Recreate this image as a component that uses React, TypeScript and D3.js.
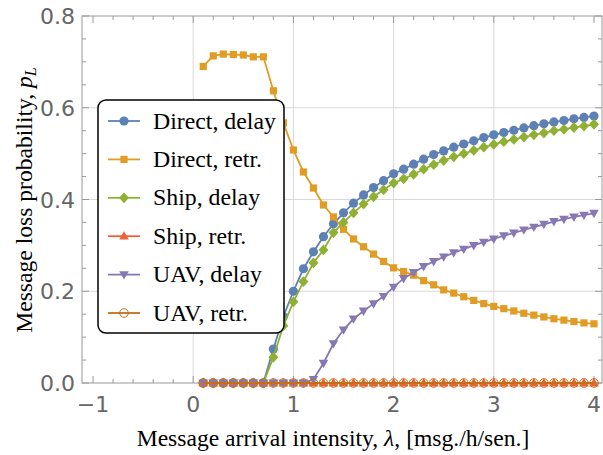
import React from "react";
import * as d3 from "d3";

// sample grid of arrival intensities
const lambda = [
  0.1, 0.2, 0.3, 0.4, 0.5, 0.6, 0.7, 0.8, 0.9, 1.0,
  1.1, 1.2, 1.3, 1.4, 1.5, 1.6, 1.7, 1.8, 1.9, 2.0,
  2.1, 2.2, 2.3, 2.4, 2.5, 2.6, 2.7, 2.8, 2.9, 3.0,
  3.1, 3.2, 3.3, 3.4, 3.5, 3.6, 3.7, 3.8, 3.9, 4.0,
];

const directDelay = [
  0, 0, 0, 0, 0, 0, 0, 0.074, 0.145, 0.2,
  0.249, 0.286, 0.319, 0.347, 0.371, 0.392, 0.41, 0.426, 0.441, 0.456,
  0.466, 0.477, 0.488, 0.498, 0.506, 0.514, 0.521, 0.528, 0.535, 0.541,
  0.546, 0.551, 0.556, 0.561, 0.565, 0.569, 0.572, 0.576, 0.579, 0.582,
];
const directRetr = [
  0.69, 0.713, 0.717, 0.716, 0.715, 0.711, 0.711, 0.637, 0.567, 0.508,
  0.46, 0.425, 0.388, 0.362, 0.335, 0.314, 0.297, 0.281, 0.265, 0.251,
  0.243, 0.235, 0.223, 0.214, 0.203, 0.196, 0.188, 0.18, 0.173, 0.167,
  0.162, 0.157, 0.152, 0.148, 0.144, 0.14, 0.137, 0.134, 0.131, 0.129,
];
const shipDelay = [
  0, 0, 0, 0, 0, 0, 0, 0.056, 0.125, 0.177,
  0.221, 0.262, 0.29, 0.328, 0.35, 0.371, 0.39, 0.406, 0.421, 0.436,
  0.445, 0.455, 0.466, 0.476, 0.485, 0.493, 0.5, 0.507, 0.514, 0.52,
  0.526, 0.531, 0.536, 0.541, 0.545, 0.55, 0.553, 0.557, 0.56, 0.564,
];
const shipRetr = [
  0, 0, 0, 0, 0, 0, 0, 0, 0, 0,
  0, 0, 0, 0, 0, 0, 0, 0, 0, 0,
  0, 0, 0, 0, 0, 0, 0, 0, 0, 0,
  0, 0, 0, 0, 0, 0, 0, 0, 0, 0,
];
const uavDelay = [
  0, 0, 0, 0, 0, 0, 0, 0, 0, 0,
  0, 0.008, 0.043, 0.086, 0.116, 0.14, 0.157, 0.173, 0.189, 0.209,
  0.228, 0.241, 0.254, 0.265, 0.275, 0.284, 0.292, 0.3, 0.307, 0.314,
  0.321, 0.327, 0.334, 0.34, 0.346, 0.352, 0.357, 0.362, 0.366, 0.37,
];
const uavRetr = [
  0, 0, 0, 0, 0, 0, 0, 0, 0, 0,
  0, 0, 0, 0, 0, 0, 0, 0, 0, 0,
  0, 0, 0, 0, 0, 0, 0, 0, 0, 0,
  0, 0, 0, 0, 0, 0, 0, 0, 0, 0,
];

const seriesNames = ["Direct, delay", "Direct, retr.", "Ship, delay", "Ship, retr.", "UAV, delay", "UAV, retr."];
const seriesValues = [directDelay, directRetr, shipDelay, shipRetr, uavDelay, uavRetr];
const seriesColors = ["#5e81b5", "#e19c24", "#8fb032", "#eb6235", "#8778b3", "#c56e1a"];
const seriesMarkers = ["circle", "square", "diamond", "triUp", "triDown", "openCircle"];

const xTickLabels = ["\u22121", "0", "1", "2", "3", "4"];
const yTickLabels = ["0.0", "0.2", "0.4", "0.6", "0.8"];

const W = 603;
const H = 455;
const left = 82, right = 602, top = 16, bottom = 383;

const Marker = ({ kind, color, x, y }: { kind: string; color: string; x: number; y: number }) => {
  switch (kind) {
    case "circle":
      return <circle cx={x} cy={y} r={4.6} fill={color} />;
    case "square":
      return <rect x={x - 3.6} y={y - 3.6} width={7.2} height={7.2} fill={color} />;
    case "diamond":
      return <path d={`M${x},${y - 5.4}L${x + 5},${y}L${x},${y + 5.4}L${x - 5},${y}Z`} fill={color} />;
    case "triUp":
      return <path d={`M${x},${y - 5}L${x + 4.8},${y + 3.4}L${x - 4.8},${y + 3.4}Z`} fill={color} />;
    case "triDown":
      return <path d={`M${x},${y + 5}L${x + 4.8},${y - 3.4}L${x - 4.8},${y - 3.4}Z`} fill={color} />;
    default:
      return <circle cx={x} cy={y} r={4.3} fill="none" stroke={color} strokeWidth={1} />;
  }
};

export default function App() {
  const x = d3.scaleLinear().domain([-1.11, 4.08]).range([left, right]);
  const y = d3.scaleLinear().domain([0, 0.8]).range([bottom, top]);

  const xMajor = d3.range(-1, 4.01, 1);
  const xMinor = d3.range(-1, 4.01, 0.2).filter(v => Math.abs(v - Math.round(v)) > 1e-6);
  const yMajor = d3.range(0, 0.801, 0.2);
  const yMinor = d3.range(0, 0.801, 0.05).filter(v => Math.abs(v / 0.2 - Math.round(v / 0.2)) > 1e-6);

  const line = d3
    .line<number>()
    .x((d, i) => x(lambda[i]))
    .y(d => y(d));

  const frame = "#999999";
  const grid = "#d9d9d9";

  const legendX = 98, legendY = 100, legendW = 186, legendH = 233;
  const rowH = 38.4;

  return (
    <div style={{ position: "fixed", left: 0, top: 0 }}>
      <svg width={W} height={H} style={{ display: "block", background: "#fff" }}>
        {/* grid */}
        {[0, 1, 2, 3].map(v => (
          <line key={"gx" + v} x1={x(v)} x2={x(v)} y1={top} y2={bottom} stroke={grid} strokeWidth={1} />
        ))}
        {[0.2, 0.4, 0.6].map(v => (
          <line key={"gy" + v} x1={left} x2={right} y1={y(v)} y2={y(v)} stroke={grid} strokeWidth={1} />
        ))}

        {/* frame */}
        <rect x={left} y={top} width={right - left} height={bottom - top} fill="none" stroke={frame} strokeWidth={1} />
        {xMajor.map(v => (
          <g key={"xm" + v}>
            <line x1={x(v)} x2={x(v)} y1={bottom} y2={bottom - 7} stroke={frame} />
            <line x1={x(v)} x2={x(v)} y1={top} y2={top + 7} stroke={frame} />
          </g>
        ))}
        {xMinor.map(v => (
          <g key={"xn" + v}>
            <line x1={x(v)} x2={x(v)} y1={bottom} y2={bottom - 4} stroke={frame} />
            <line x1={x(v)} x2={x(v)} y1={top} y2={top + 4} stroke={frame} />
          </g>
        ))}
        {yMajor.map(v => (
          <g key={"ym" + v}>
            <line x1={left} x2={left + 7} y1={y(v)} y2={y(v)} stroke={frame} />
            <line x1={right} x2={right - 7} y1={y(v)} y2={y(v)} stroke={frame} />
          </g>
        ))}
        {yMinor.map(v => (
          <g key={"yn" + v}>
            <line x1={left} x2={left + 4} y1={y(v)} y2={y(v)} stroke={frame} />
            <line x1={right} x2={right - 4} y1={y(v)} y2={y(v)} stroke={frame} />
          </g>
        ))}

        {/* tick labels */}
        {xMajor.map((v, i) => (
          <text key={"xl" + v} x={x(v)} y={412} textAnchor="middle" fontFamily="DejaVu Sans" fontSize={22} fill="#666">
            {xTickLabels[i]}
          </text>
        ))}
        {yMajor.map((v, i) => (
          <text key={"yl" + v} x={75} y={y(v) + 8} textAnchor="end" fontFamily="DejaVu Sans" fontSize={22} fill="#666">
            {yTickLabels[i]}
          </text>
        ))}

        {/* series */}
        {seriesValues.map((vals, s) => (
          <g key={"s" + s}>
            <path d={line(vals) || ""} fill="none" stroke={seriesColors[s]} strokeWidth={1.8} />
            {vals.map((v, i) => (
              <Marker key={i} kind={seriesMarkers[s]} color={seriesColors[s]} x={x(lambda[i])} y={y(v)} />
            ))}
          </g>
        ))}

        {/* legend */}
        <rect x={legendX} y={legendY} width={legendW} height={legendH} rx={8} fill="#fff" stroke="#000" strokeWidth={1.5} />
        {seriesNames.map((name, s) => {
          const cy = legendY + 21 + s * rowH;
          return (
            <g key={"l" + s}>
              <line x1={108} x2={140} y1={cy} y2={cy} stroke={seriesColors[s]} strokeWidth={1.8} />
              <Marker kind={seriesMarkers[s]} color={seriesColors[s]} x={124} y={cy} />
              <text x={153} y={cy + 7.5} fontFamily="Liberation Serif" fontSize={23.8} fill="#000">
                {name}
              </text>
            </g>
          );
        })}

        {/* axis titles */}
        <text x={333} y={446} textAnchor="middle" fontFamily="Liberation Serif" fontSize={23.6} fill="#000">
          Message arrival intensity, <tspan fontStyle="italic">λ</tspan>, [msg./h/sen.]
        </text>
        <text
          transform="translate(32,200) rotate(-90)"
          textAnchor="middle"
          fontFamily="Liberation Serif"
          fontSize={23.6}
          fill="#000"
        >
          Message loss probability, <tspan fontStyle="italic">p</tspan>
          <tspan fontStyle="italic" fontSize={16} dy={4}>L</tspan>
        </text>
      </svg>
    </div>
  );
}
